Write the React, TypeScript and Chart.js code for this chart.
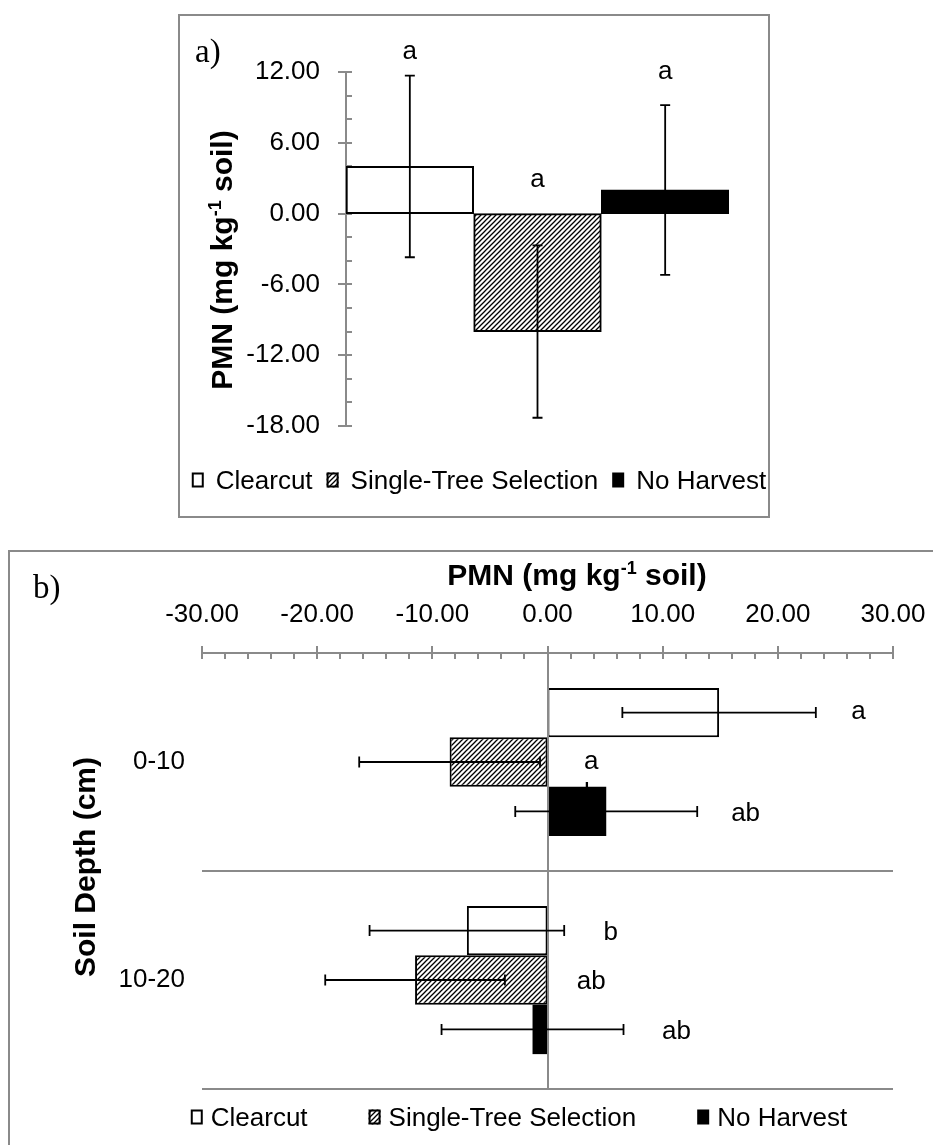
import React, { useEffect, useRef } from 'react';
import { Chart, registerables } from 'chart.js';

Chart.register(...registerables);

const FONT = '"Liberation Sans", Arial, Helvetica, sans-serif';
const SERIF = '"Liberation Serif", "Times New Roman", serif';

const SERIES_NAMES = ['Clearcut', 'Single-Tree Selection', 'No Harvest'];

// ---- Panel a ----
const A_CATEGORY = [''];
const A_CLEARCUT = [4.0];
const A_SINGLE_TREE = [-10.0];
const A_NO_HARVEST = [2.0];
const A_ERRORS = [7.7, 7.3, 7.2];
const A_LETTERS = ['a', 'a', 'a'];
const A_LETTER_LEVELS = [13.7, 2.8, 12.0];
const A_Y_MIN = -18;
const A_Y_MAX = 12;
const A_Y_STEP = 6;
const A_Y_MINOR = 2;

// ---- Panel b ----
const B_DEPTHS = ['0-10', '10-20'];
const B_CLEARCUT = [14.9, -7.0];
const B_SINGLE_TREE = [-8.5, -11.5];
const B_NO_HARVEST = [5.1, -1.3];
const B_CLEARCUT_ERR = [8.4, 8.45];
const B_SINGLE_TREE_ERR = [7.85, 7.8];
const B_NO_HARVEST_ERR = [7.9, 7.9];
const B_LETTERS = [
  ['a', 'a', 'ab'],
  ['b', 'ab', 'ab'],
];
const B_LETTER_AT = [
  [27.0, 3.8, 17.2],
  [5.5, 3.8, 11.2],
];
const B_HIDDEN_LETTER = 'b';
const B_HIDDEN_LETTER_AT = 3.8;
const B_X_MIN = -30;
const B_X_MAX = 30;
const B_X_STEP = 10;
const B_X_MINOR = 2;

const AXIS_GRAY = '#8a8a8a';
const TICK_SIZE = 26;

function makeHatch(ctx: CanvasRenderingContext2D) {
  const c = document.createElement('canvas');
  const s = 5;
  c.width = s;
  c.height = s;
  const x = c.getContext('2d')!;
  x.fillStyle = '#fff';
  x.fillRect(0, 0, s, s);
  x.strokeStyle = '#000';
  x.lineWidth = 1.3;
  x.beginPath();
  x.moveTo(-1, s + 1);
  x.lineTo(s + 1, -1);
  x.moveTo(-1, 1);
  x.lineTo(1, -1);
  x.moveTo(s - 1, s + 1);
  x.lineTo(s + 1, s - 1);
  x.stroke();
  return ctx.createPattern(c, 'repeat')!;
}

type Part = { t: string; sup?: boolean };
const PMN_TITLE: Part[] = [{ t: 'PMN (mg kg' }, { t: '-1', sup: true }, { t: ' soil)' }];
const DEPTH_TITLE: Part[] = [{ t: 'Soil Depth (cm)' }];

function drawRich(ctx: CanvasRenderingContext2D, parts: Part[], cx: number, cy: number, size: number, rotate: boolean) {
  ctx.save();
  ctx.translate(cx, cy);
  if (rotate) ctx.rotate(-Math.PI / 2);
  const main = `bold ${size}px ${FONT}`;
  const sup = `bold ${Math.round(size * 0.6)}px ${FONT}`;
  const widths = parts.map((p) => {
    ctx.font = p.sup ? sup : main;
    return ctx.measureText(p.t).width;
  });
  const total = widths.reduce((a, b) => a + b, 0);
  let x = -total / 2;
  ctx.textAlign = 'left';
  ctx.textBaseline = 'alphabetic';
  ctx.fillStyle = '#000';
  const base = size * 0.27;
  parts.forEach((p, i) => {
    ctx.font = p.sup ? sup : main;
    ctx.fillText(p.t, x, p.sup ? base - size * 0.36 : base);
    x += widths[i];
  });
  ctx.restore();
}

function drawLetter(ctx: CanvasRenderingContext2D, text: string, cx: number, cy: number) {
  ctx.save();
  ctx.font = `${TICK_SIZE}px ${FONT}`;
  ctx.fillStyle = '#000';
  ctx.textAlign = 'center';
  ctx.textBaseline = 'alphabetic';
  const off = /[bdfhklt]/.test(text) ? 0.36 : 0.26;
  ctx.fillText(text, cx, cy + off * TICK_SIZE);
  ctx.restore();
}

type LegendItem = { text: string; fill: string | CanvasPattern; stroke: boolean };

function drawLegend(ctx: CanvasRenderingContext2D, items: LegendItem[], cx: number, cy: number, gap: number, spacing: number) {
  ctx.save();
  ctx.font = `${TICK_SIZE}px ${FONT}`;
  const boxW = 12;
  const boxH = 15;
  const widths = items.map((it) => boxW + gap + ctx.measureText(it.text).width);
  const total = widths.reduce((a, b) => a + b, 0) + spacing * (items.length - 1);
  let x = cx - total / 2;
  items.forEach((it, i) => {
    const by = cy - boxH / 2;
    ctx.fillStyle = it.fill as any;
    ctx.fillRect(x, by, boxW, boxH);
    if (it.stroke) {
      ctx.strokeStyle = '#000';
      ctx.lineWidth = 2;
      ctx.strokeRect(x + 1, by + 1, boxW - 2, boxH - 2);
    }
    ctx.fillStyle = '#000';
    ctx.textAlign = 'left';
    ctx.textBaseline = 'alphabetic';
    ctx.fillText(it.text, x + boxW + gap, cy + 0.36 * TICK_SIZE);
    x += widths[i] + spacing;
  });
  ctx.restore();
}

function drawPanelLabel(ctx: CanvasRenderingContext2D, text: string, left: number, cy: number) {
  ctx.save();
  const size = 33;
  ctx.font = `${size}px ${SERIF}`;
  ctx.fillStyle = '#000';
  ctx.textAlign = 'left';
  ctx.textBaseline = 'alphabetic';
  ctx.fillText(text, left, cy + 0.3 * size);
  ctx.restore();
}

export default function App() {
  const refA = useRef<HTMLCanvasElement>(null);
  const refB = useRef<HTMLCanvasElement>(null);

  useEffect(() => {
    const ca = refA.current!;
    const cb = refB.current!;
    const hatchA = makeHatch(ca.getContext('2d')!);
    const hatchB = makeHatch(cb.getContext('2d')!);

    const aErrors = A_ERRORS;

    const pluginA = {
      id: 'panelA',
      beforeDatasetsDraw(chart: any) {
        const ctx = chart.ctx as CanvasRenderingContext2D;
        const y = chart.scales.y;
        const area = chart.chartArea;
        const ax = area.left;
        ctx.save();
        ctx.strokeStyle = AXIS_GRAY;
        ctx.lineWidth = 2;
        ctx.beginPath();
        ctx.moveTo(ax, y.getPixelForValue(A_Y_MAX) - 1);
        ctx.lineTo(ax, y.getPixelForValue(A_Y_MIN) + 1);
        for (let v = A_Y_MIN; v <= A_Y_MAX + 1e-9; v += A_Y_MINOR) {
          const py = Math.round(y.getPixelForValue(v));
          const major = Math.abs(v % A_Y_STEP) < 1e-9;
          ctx.moveTo(major ? ax - 8 : ax, py);
          ctx.lineTo(ax + 6, py);
        }
        ctx.stroke();
        ctx.restore();
      },
      afterDatasetsDraw(chart: any) {
        const ctx = chart.ctx as CanvasRenderingContext2D;
        const y = chart.scales.y;
        ctx.save();
        ctx.strokeStyle = '#000';
        ctx.lineWidth = 1.8;
        chart.data.datasets.forEach((ds: any, i: number) => {
          const el = chart.getDatasetMeta(i).data[0];
          const v = ds.data[0];
          const e = aErrors[i];
          const x = el.x;
          const y1 = y.getPixelForValue(v + e);
          const y2 = y.getPixelForValue(v - e);
          ctx.beginPath();
          ctx.moveTo(x, y1);
          ctx.lineTo(x, y2);
          ctx.moveTo(x - 5, y1);
          ctx.lineTo(x + 5, y1);
          ctx.moveTo(x - 5, y2);
          ctx.lineTo(x + 5, y2);
          ctx.stroke();
        });
        ctx.restore();
      },
      afterDraw(chart: any) {
        const ctx = chart.ctx as CanvasRenderingContext2D;
        const y = chart.scales.y;
        chart.data.datasets.forEach((_ds: any, i: number) => {
          const el = chart.getDatasetMeta(i).data[0];
          drawLetter(ctx, A_LETTERS[i], el.x, y.getPixelForValue(A_LETTER_LEVELS[i]));
        });
        drawRich(ctx, PMN_TITLE, 44, 244, 30, true);
        drawPanelLabel(ctx, 'a)', 15, 36);
        drawLegend(
          ctx,
          [
            { text: SERIES_NAMES[0], fill: '#fff', stroke: true },
            { text: SERIES_NAMES[1], fill: hatchA, stroke: true },
            { text: SERIES_NAMES[2], fill: '#000', stroke: false },
          ],
          299,
          464,
          12,
          14
        );
      },
    };

    const chartA = new Chart(ca, {
      type: 'bar',
      data: {
        labels: A_CATEGORY,
        datasets: [
          { label: SERIES_NAMES[0], data: A_CLEARCUT, backgroundColor: '#fff', borderColor: '#000', borderWidth: 2, borderSkipped: false, categoryPercentage: 1, barPercentage: 1 },
          { label: SERIES_NAMES[1], data: A_SINGLE_TREE, backgroundColor: hatchA, borderColor: '#000', borderWidth: 2, borderSkipped: false, categoryPercentage: 1, barPercentage: 1 },
          { label: SERIES_NAMES[2], data: A_NO_HARVEST, backgroundColor: '#000', borderColor: '#000', borderWidth: 0, categoryPercentage: 1, barPercentage: 1 },
        ] as any,
      },
      options: {
        responsive: false,
        animation: false,
        devicePixelRatio: 1,
        layout: { padding: { left: 0, top: 56, right: 39, bottom: 90 } },
        plugins: { legend: { display: false }, tooltip: { enabled: false } },
        scales: {
          x: { display: false },
          y: {
            min: A_Y_MIN,
            max: A_Y_MAX,
            ticks: {
              stepSize: A_Y_STEP,
              padding: 26,
              color: '#000',
              font: { family: FONT, size: TICK_SIZE },
              callback: (v: any) => Number(v).toFixed(2),
            },
            grid: { display: false, drawTicks: false },
            border: { display: false },
            afterFit: (s: any) => {
              s.width = 166;
            },
          },
        },
      } as any,
      plugins: [pluginA],
    });

    const bErr = [B_CLEARCUT_ERR, B_SINGLE_TREE_ERR, B_NO_HARVEST_ERR];

    const pluginB = {
      id: 'panelB',
      beforeDatasetsDraw(chart: any) {
        const ctx = chart.ctx as CanvasRenderingContext2D;
        const x = chart.scales.x;
        const y = chart.scales.y;
        const area = chart.chartArea;
        // hidden letter (sits beneath the bars)
        const nh = chart.getDatasetMeta(2).data[0];
        drawLetter(ctx, B_HIDDEN_LETTER, x.getPixelForValue(B_HIDDEN_LETTER_AT), nh.y - 20);
        ctx.save();
        ctx.strokeStyle = AXIS_GRAY;
        ctx.lineWidth = 2;
        ctx.beginPath();
        // category separators
        for (let i = 0; i < B_DEPTHS.length; i++) {
          const py = Math.round(y.getPixelForValue(i + 0.5));
          ctx.moveTo(area.left, py);
          ctx.lineTo(area.right, py);
        }
        // value axis at top
        const ay = Math.round(area.top);
        ctx.moveTo(x.getPixelForValue(B_X_MIN) - 1, ay);
        ctx.lineTo(x.getPixelForValue(B_X_MAX) + 1, ay);
        for (let v = B_X_MIN; v <= B_X_MAX + 1e-9; v += B_X_MINOR) {
          const px = Math.round(x.getPixelForValue(v));
          const major = Math.abs(v % B_X_STEP) < 1e-9;
          ctx.moveTo(px, major ? ay - 7 : ay);
          ctx.lineTo(px, ay + 6);
        }
        ctx.stroke();
        ctx.restore();
      },
      afterDatasetsDraw(chart: any) {
        const ctx = chart.ctx as CanvasRenderingContext2D;
        const x = chart.scales.x;
        const area = chart.chartArea;
        ctx.save();
        ctx.strokeStyle = AXIS_GRAY;
        ctx.lineWidth = 2;
        const zx = Math.round(x.getPixelForValue(0));
        ctx.beginPath();
        ctx.moveTo(zx, area.top);
        ctx.lineTo(zx, area.bottom);
        ctx.stroke();
        ctx.strokeStyle = '#000';
        ctx.lineWidth = 1.8;
        chart.data.datasets.forEach((ds: any, i: number) => {
          chart.getDatasetMeta(i).data.forEach((el: any, j: number) => {
            const v = ds.data[j];
            const e = bErr[i][j];
            const x1 = x.getPixelForValue(v - e);
            const x2 = x.getPixelForValue(v + e);
            const py = el.y;
            ctx.beginPath();
            ctx.moveTo(x1, py);
            ctx.lineTo(x2, py);
            ctx.moveTo(x1, py - 5.5);
            ctx.lineTo(x1, py + 5.5);
            ctx.moveTo(x2, py - 5.5);
            ctx.lineTo(x2, py + 5.5);
            ctx.stroke();
          });
        });
        ctx.restore();
      },
      afterDraw(chart: any) {
        const ctx = chart.ctx as CanvasRenderingContext2D;
        const x = chart.scales.x;
        B_LETTERS.forEach((row, j) => {
          row.forEach((txt, i) => {
            const el = chart.getDatasetMeta(i).data[j];
            drawLetter(ctx, txt, x.getPixelForValue(B_LETTER_AT[j][i]), el.y);
          });
        });
        drawRich(ctx, PMN_TITLE, 567, 25, 30, false);
        drawRich(ctx, DEPTH_TITLE, 77, 315, 30, true);
        drawPanelLabel(ctx, 'b)', 23, 36);
        drawLegend(
          ctx,
          [
            { text: SERIES_NAMES[0], fill: '#fff', stroke: true },
            { text: SERIES_NAMES[1], fill: hatchB, stroke: true },
            { text: SERIES_NAMES[2], fill: '#000', stroke: false },
          ],
          509,
          565,
          8,
          61
        );
      },
    };

    const chartB = new Chart(cb, {
      type: 'bar',
      data: {
        labels: B_DEPTHS,
        datasets: [
          { label: SERIES_NAMES[0], data: B_CLEARCUT, backgroundColor: '#fff', borderColor: '#000', borderWidth: 2, borderSkipped: false, categoryPercentage: 0.68, barPercentage: 1 },
          { label: SERIES_NAMES[1], data: B_SINGLE_TREE, backgroundColor: hatchB, borderColor: '#000', borderWidth: 2, borderSkipped: false, categoryPercentage: 0.68, barPercentage: 1 },
          { label: SERIES_NAMES[2], data: B_NO_HARVEST, backgroundColor: '#000', borderColor: '#000', borderWidth: 0, categoryPercentage: 0.68, barPercentage: 1 },
        ] as any,
      },
      options: {
        indexAxis: 'y',
        responsive: false,
        animation: false,
        devicePixelRatio: 1,
        layout: { padding: { left: 0, top: 0, right: 57, bottom: 56 } },
        plugins: { legend: { display: false }, tooltip: { enabled: false } },
        scales: {
          x: {
            position: 'top',
            min: B_X_MIN,
            max: B_X_MAX,
            ticks: {
              stepSize: B_X_STEP,
              padding: 23,
              color: '#000',
              maxRotation: 0,
              font: { family: FONT, size: TICK_SIZE },
              callback: (v: any) => Number(v).toFixed(2),
            },
            grid: { display: false, drawTicks: false },
            border: { display: false },
            afterFit: (s: any) => {
              s.height = 101;
            },
          },
          y: {
            ticks: {
              padding: 17,
              color: '#000',
              font: { family: FONT, size: TICK_SIZE },
            },
            grid: { display: false, drawTicks: false },
            border: { display: false },
            afterFit: (s: any) => {
              s.width = 192;
            },
          },
        },
      } as any,
      plugins: [pluginB],
    });

    return () => {
      chartA.destroy();
      chartB.destroy();
    };
  }, []);

  return (
    <div style={{ position: 'absolute', left: 0, top: 0, width: 933, height: 1145, overflow: 'hidden', background: '#fff' }}>
      <div style={{ position: 'absolute', left: 178, top: 14, width: 588, height: 500, border: `2px solid ${AXIS_GRAY}` }}>
        <canvas ref={refA} width={588} height={500} style={{ display: 'block', width: 588, height: 500 }} />
      </div>
      <div style={{ position: 'absolute', left: 8, top: 550, width: 960, height: 640, border: `2px solid ${AXIS_GRAY}` }}>
        <canvas ref={refB} width={940} height={593} style={{ display: 'block', width: 940, height: 593 }} />
      </div>
    </div>
  );
}
